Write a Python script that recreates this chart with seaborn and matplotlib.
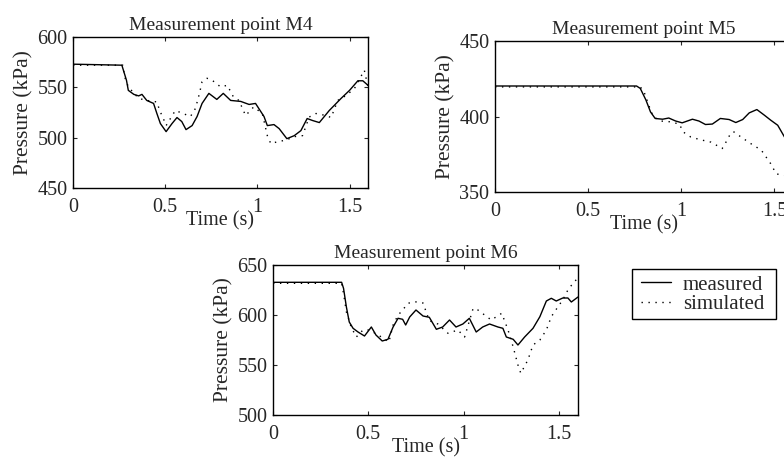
import matplotlib
matplotlib.use("Agg")
import matplotlib.pyplot as plt
import numpy as np
import seaborn as sns

# M4 measured / simulated
t_m4_meas = [0, 0.265, 0.29, 0.30, 0.33, 0.356, 0.374, 0.40, 0.437, 0.455, 0.474, 0.505, 0.537,
             0.564, 0.59, 0.613, 0.646, 0.673, 0.70, 0.737, 0.78, 0.815, 0.855, 0.91, 0.955,
             0.99, 1.036, 1.054, 1.09, 1.118, 1.16, 1.20, 1.236, 1.27, 1.30, 1.336, 1.39,
             1.454, 1.50, 1.545, 1.572, 1.60]
p_m4_meas = [573, 572, 557, 547, 543, 541.5, 543, 537, 534, 524, 514, 506, 514,
             520, 516, 508, 512, 521, 534, 544, 538, 544, 537, 536, 533,
             534, 521, 512, 513, 509, 499, 502, 507, 519, 517, 515, 527,
             539, 547, 556.5, 556.5, 552]
t_m4_sim = [0, 0.27, 0.28, 0.30, 0.356, 0.40, 0.455, 0.47, 0.49, 0.505, 0.555, 0.597, 0.637,
            0.664, 0.686, 0.70, 0.727, 0.755, 0.80, 0.837, 0.87, 0.90, 0.936, 0.98, 1.027,
            1.054, 1.073, 1.109, 1.154, 1.20, 1.245, 1.281, 1.318, 1.372, 1.40, 1.436,
            1.482, 1.527, 1.58, 1.60]
p_m4_sim = [572, 572, 560.5, 550.5, 539, 537, 535.5, 527, 519, 512, 527, 524, 521,
            529, 544, 555.5, 559, 557, 550.5, 552, 540.5, 537, 522, 530.5, 524,
            502, 494, 496, 497.5, 501, 502, 520.5, 524, 522, 520, 537,
            542, 549, 567, 550.5]

# M5 measured / simulated
t_m5_meas = [0, 0.76, 0.78, 0.81, 0.835, 0.86, 0.90, 0.933, 0.97, 1.005, 1.06, 1.095, 1.13,
             1.167, 1.21, 1.257, 1.293, 1.33, 1.365, 1.406, 1.446, 1.48, 1.518, 1.554, 1.60]
p_m5_meas = [420.2, 420.2, 418.6, 411, 403, 398.7, 398.2, 399, 397, 395.8, 398.2, 397, 394.7,
             395, 398.7, 398, 396, 398, 402.4, 404.6, 400.9, 397.6, 394.2, 386.5, 376]
t_m5_sim = [0, 0.78, 0.80, 0.83, 0.85, 0.89, 0.94, 0.99, 1.01, 1.05, 1.10, 1.16, 1.22,
            1.24, 1.26, 1.28, 1.32, 1.374, 1.43, 1.48, 1.51, 1.554, 1.60]
p_m5_sim = [419.6, 419.6, 416.4, 406, 399.8, 397, 396.5, 395, 389.8, 386.5, 384.7, 383, 378.8,
            383, 387.6, 390, 386.5, 382, 377.7, 368.8, 362, 361, 355]

# M6 measured / simulated
t_m6_meas = [0, 0.36, 0.37, 0.385, 0.40, 0.42, 0.446, 0.48, 0.516, 0.54, 0.573, 0.603, 0.63,
             0.656, 0.68, 0.696, 0.717, 0.75, 0.787, 0.82, 0.857, 0.89, 0.926, 0.96, 0.996,
             1.03, 1.066, 1.10, 1.136, 1.18, 1.206, 1.224, 1.26, 1.285, 1.32, 1.364, 1.40,
             1.434, 1.46, 1.486, 1.52, 1.547, 1.565, 1.60]
p_m6_meas = [632.7, 632.7, 626.7, 608, 593, 586.7, 583, 579, 588, 580, 574, 575.7, 588,
             596.7, 595.7, 590, 598, 605, 599, 597.7, 585.7, 588, 595, 588, 591,
             596.7, 583, 588, 591, 588, 586.7, 578, 575.7, 570, 578, 586.7, 598.3,
             614, 616.7, 614, 617, 617, 613, 618]
t_m6_sim = [0, 0.36, 0.37, 0.385, 0.41, 0.437, 0.472, 0.507, 0.56, 0.608, 0.63, 0.656, 0.673,
            0.708, 0.743, 0.787, 0.82, 0.865, 0.918, 0.97, 1.005, 1.05, 1.075, 1.11, 1.145,
            1.20, 1.233, 1.26, 1.285, 1.30, 1.337, 1.364, 1.40, 1.434, 1.46, 1.495, 1.52,
            1.547, 1.58, 1.60]
p_m6_sim = [631.7, 631.7, 621.7, 603, 588, 578, 585, 585, 579, 573, 590, 600, 603.3,
            611.7, 613.3, 612, 594.3, 591, 581.7, 585, 578, 606.7, 605, 600, 595,
            601.7, 585, 568, 550, 541.7, 555, 570, 575, 585, 598.3, 608.3, 615,
            625, 633.3, 636.7]

panels = [
    ("Measurement point M4", t_m4_meas, p_m4_meas, t_m4_sim, p_m4_sim, (450, 600), [450, 500, 550, 600]),
    ("Measurement point M5", t_m5_meas, p_m5_meas, t_m5_sim, p_m5_sim, (350, 450), [350, 400, 450]),
    ("Measurement point M6", t_m6_meas, p_m6_meas, t_m6_sim, p_m6_sim, (500, 650), [500, 550, 600, 650]),
]

W, H = 784, 463
# axes boxes in figure fractions (left, bottom, width, height)
boxes = [
    [73 / W, 275 / H, 295 / W, 151 / H],
    [495 / W, 271 / H, 298 / W, 151 / H],
    [273 / W, 48 / H, 305 / W, 150 / H],
]

sns.set_style("ticks")
plt.rcParams["font.family"] = ["Liberation Serif", "DejaVu Serif"]
plt.rcParams["xtick.direction"] = "in"
plt.rcParams["ytick.direction"] = "in"
plt.rcParams["xtick.top"] = True
plt.rcParams["ytick.right"] = True
plt.rcParams["axes.linewidth"] = 1.0

fig = plt.figure(figsize=(7.84, 4.63), dpi=100)

for (title, tm, pm, ts, ps, ylim, yticks), box in zip(panels, boxes):
    ax = fig.add_axes(box)
    sns.lineplot(x=tm, y=pm, ax=ax, color="black", linewidth=1.0, label="measured")
    sns.lineplot(x=ts, y=ps, ax=ax, color="black", linewidth=1.0,
                 linestyle=(0, (1, 4)), label="simulated")
    ax.set_xlim(0, 1.6)
    ax.set_ylim(*ylim)
    ax.set_xticks([0, 0.5, 1, 1.5])
    ax.set_xticklabels(["0", "0.5", "1", "1.5"])
    ax.set_yticks(yticks)
    ax.tick_params(labelsize=14.5, length=3, width=0.8)
    ax.tick_params(axis="x", pad=7)
    ax.tick_params(axis="y", pad=4)
    ax.set_title(title, fontsize=14, pad=5)
    ax.set_xlabel("Time (s)", fontsize=14.5, labelpad=-4)
    ax.set_ylabel("Pressure (kPa)", fontsize=15.5, labelpad=3)
    for s in ax.spines.values():
        s.set_color("black")
    handles, labels = ax.get_legend_handles_labels()
    ax.get_legend().remove()

# legend box drawn as a plain rectangle, entries placed inside it
frame = plt.Rectangle((632 / W, 1 - 319 / H), 144 / W, 50 / H, transform=fig.transFigure,
                      fill=False, edgecolor="black", linewidth=1.0)
fig.patches.append(frame)
leg = fig.legend(handles, labels, loc="upper left",
                 bbox_to_anchor=(641 / W, 1 - 275 / H),
                 frameon=False, fontsize=15,
                 handlelength=1.45, borderpad=0, labelspacing=0.0,
                 handletextpad=0.55, borderaxespad=0)

fig.savefig("out.png", dpi=100)
